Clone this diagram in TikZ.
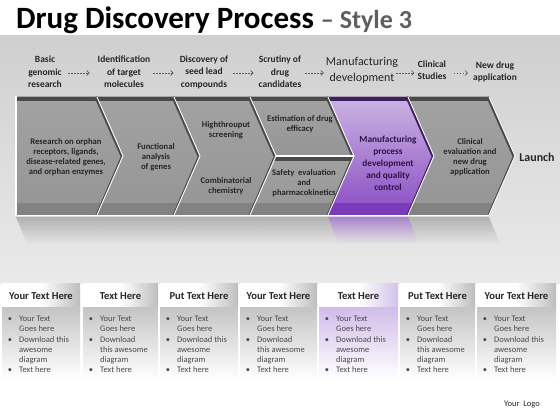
\documentclass[tikz,border=0pt]{standalone}
\usepackage{fontspec}
\setmainfont{Carlito}
\usetikzlibrary{arrows.meta,fadings}
\definecolor{bgtop}{HTML}{CFCFCF}
\definecolor{bgbot}{HTML}{EAEAEA}
\definecolor{chtop}{HTML}{A2A2A2}
\definecolor{chmid}{HTML}{C3C3C3}
\definecolor{chbot}{HTML}{959595}
\definecolor{chstrip}{HTML}{828282}
\definecolor{chdark}{HTML}{4A4A4A}
\definecolor{putop}{HTML}{CBB4E3}
\definecolor{pumid}{HTML}{B08AD8}
\definecolor{pubot}{HTML}{8A4CC4}
\definecolor{pustrip}{HTML}{7B3AB9}
\definecolor{pudark}{HTML}{3F1F5E}
\definecolor{putext}{HTML}{2E1244}
\definecolor{txt}{HTML}{262626}
\definecolor{btxt}{HTML}{4A4A4A}
\definecolor{ttlgray}{HTML}{5F5F5F}
\definecolor{arrgray}{HTML}{5A5A5A}
\definecolor{hdrgray}{HTML}{BDBDBD}
\definecolor{hdrpurple}{HTML}{D3C1EA}
\definecolor{bodygray}{HTML}{C4C4C4}
\definecolor{bodypurple}{HTML}{D1BCEA}
\pgfdeclarehorizontalshading{hdrsh}{100bp}{color(0bp)=(white); color(25bp)=(white); color(50bp)=(white); color(75bp)=(hdrgray); color(100bp)=(hdrgray)}
\pgfdeclarehorizontalshading{hdrshp}{100bp}{color(0bp)=(white); color(25bp)=(white); color(50bp)=(white); color(75bp)=(hdrpurple); color(100bp)=(hdrpurple)}
\pgfdeclareverticalshading{bodysh}{100bp}{color(0bp)=(white); color(25bp)=(white); color(40bp)=(white); color(75bp)=(bodygray); color(100bp)=(bodygray)}
\pgfdeclareverticalshading{bodyshp}{100bp}{color(0bp)=(white); color(25bp)=(white); color(40bp)=(white); color(75bp)=(bodypurple); color(100bp)=(bodypurple)}
\newcommand\chevmid[2]{(#1,97) -- (#2,97) -- ({#2+26},156) -- (#2,215) -- (#1,215) -- ({#1+26},156) -- cycle}
\begin{document}
\begin{tikzpicture}[x=1pt,y=-1pt,
  chface/.style={top color=chtop, middle color=chmid, bottom color=chbot},
  puface/.style={top color=putop, middle color=pumid, bottom color=pubot},
  darkedge/.style={draw=chdark, line width=2.4pt},
  darkedgethin/.style={draw=chdark, line width=1.2pt},
  whiteedge/.style={draw=white, line width=0.9pt},
  lbl/.style={font=\fontsize{9.5}{12.5}\selectfont\bfseries, text=txt, align=center, inner sep=0pt},
  biglbl/.style={font=\fontsize{12}{16}\selectfont, text=txt, align=center, inner sep=0pt},
  darr/.style={draw=arrgray, dash pattern=on 1.6pt off 1.4pt, line width=0.6pt, -{Straight Barb[length=2.5pt,width=5pt]}},
  ctext/.style={font=\fontsize{8.6}{10}\selectfont\bfseries, text=txt, align=center, inner sep=0pt},
  ptext/.style={font=\fontsize{9.3}{12}\selectfont\bfseries, text=putext, align=center, inner sep=0pt},
  hdr/.style={font=\fontsize{10.6}{12}\selectfont\bfseries, text=txt, inner sep=0pt},
  btx/.style={font=\fontsize{8.5}{10}\selectfont, text=btxt, anchor=west, inner sep=0pt, text height=6pt, text depth=2pt},
  bul/.style={font=\fontsize{8.5}{10}\selectfont, text=btxt, inner sep=0pt, text height=6pt, text depth=2pt}
]
\useasboundingbox (0,0) rectangle (560,420);
\fill[white] (0,0) rectangle (560,420);
% background band
\fill[top color=bgtop, bottom color=bgbot] (0,36) rectangle (560,283);

% title
\node[anchor=base west, inner sep=0pt, text=black] (title) at (16,29)
  {\fontsize{31}{31}\selectfont\bfseries Drug Discovery Process\ \fontsize{26}{26}\selectfont\textcolor{ttlgray}{--\ Style 3}};

% top labels
\coordinate (arow) at (0,73);
\node[lbl] (l1) at (45,72) {Basic\\genomic\\research};
\node[lbl] (l2) at (124,72) {Identification\\of target\\molecules};
\node[lbl] (l3) at (204,72) {Discovery of\\seed lead\\compounds};
\node[lbl] (l4) at (280,72) {Scrutiny of\\drug\\candidates};
\node[biglbl] (l5) at (362,70) {Manufacturing\\development};
\node[lbl] (l6) at (432,70) {Clinical\\Studies};
\node[lbl] (l7) at (495,72) {New drug\\application};
\draw[darr, shorten <=6pt, shorten >=8pt] (l1.east |- arow) -- (l2.west |- arow);
\draw[darr, shorten <=3pt, shorten >=6pt] (l2.east |- arow) -- (l3.west |- arow);
\draw[darr, shorten <=5pt, shorten >=5pt] (l3.east |- arow) -- (l4.west |- arow);
\draw[darr, shorten <=4pt, shorten >=2pt] (l4.east |- arow) -- (l5.west |- arow);
\draw[darr, shorten <=-2pt, shorten >=3pt] (l5.east |- arow) -- (l6.west |- arow);
\draw[darr, shorten <=7pt, shorten >=5pt] (l6.east |- arow) -- (l7.west |- arow);

% reflections
\foreach \xa/\xb in {16/97,97/174,174/250,250/328,408/489}{
  \fill[chstrip, fill opacity=0.5, path fading=south] (\xa,217) -- (\xb,217) -- (\xb+11,244) -- (\xa+11,244) -- cycle;
}
\fill[pustrip, fill opacity=0.55, path fading=south] (328,217) -- (408,217) -- (419,244) -- (339,244) -- cycle;

% chevron 1
\fill[chface] (16,97) -- (97,97) -- (123,156) -- (97,215) -- (16,215) -- cycle;
\begin{scope}
  \clip (16,97) -- (97,97) -- (123,156) -- (97,215) -- (16,215) -- cycle;
  \fill[chstrip] (0,203) rectangle (560,216);
  \fill[chdark] (0,96) rectangle (560,101.5);
\end{scope}
% chevrons 2,3,6
\foreach \xa/\xb in {97/174,174/250,408/489}{
  \fill[chface] \chevmid{\xa}{\xb};
  \begin{scope}
    \clip \chevmid{\xa}{\xb};
    \fill[chstrip] (0,203) rectangle (560,216);
    \fill[chdark] (0,96) rectangle (560,101.5);
  \end{scope}
}
% chevron 4 upper and lower
\fill[chface] (250,97) -- (328,97) -- (354,156) -- (276,156) -- cycle;
\begin{scope}
  \clip (250,97) -- (328,97) -- (354,156) -- (276,156) -- cycle;
  \fill[chdark] (0,96) rectangle (560,101.5);
\end{scope}
\fill[chface] (276,156) -- (354,156) -- (328,215) -- (250,215) -- cycle;
\begin{scope}
  \clip (276,156) -- (354,156) -- (328,215) -- (250,215) -- cycle;
  \fill[chstrip] (0,203) rectangle (560,216);
  \fill[chdark] (0,156) rectangle (560,160.5);
\end{scope}
% chevron 5 purple
\fill[puface] \chevmid{328}{408};
\begin{scope}
  \clip \chevmid{328}{408};
  \fill[pustrip] (0,203) rectangle (560,216);
  \fill[pudark] (0,96) rectangle (560,101.5);
\end{scope}

% dark right edges
\foreach \xb in {97,174,250,328,489}{
  \draw[darkedge] (\xb-1.4,97) -- (\xb+24.6,156);
  \draw[darkedgethin] (\xb+24.6,156) -- (\xb-0.8,215);
}
\draw[darkedge, draw=pudark] (406.6,97) -- (432.6,156);
\draw[darkedgethin, draw=pudark] (432.6,156) -- (407.2,215);
% white outlines
\foreach \xb in {97,174,250,328,408,489}{
  \draw[whiteedge] (\xb,97) -- (\xb+26,156) -- (\xb,215);
}
\draw[whiteedge, line width=1.2pt] (276,156) -- (354,156);
\draw[whiteedge, line width=1.2pt] (16,96) -- (16,215.5) -- (489,215.5);

% chevron texts
\node[ctext] (c1) at (66,157) {Research on orphan\\receptors, ligands,\\disease-related genes,\\and orphan enzymes};
\node[ctext] (c2) at (156,157) {Functional\\analysis\\of genes};
\node[ctext] (c3a) at (226,130) {Highthrouput\\screening};
\node[ctext] (c3b) at (226,186) {Combinatorial\\chemistry};
\node[ctext] (c4a) at (300,124) {Estimation of drug\\efficacy};
\node[ctext] (c4b) at (304,183) {Safety\ \ evaluation\\and\\pharmacokinetics};
\node[ptext] (c5) at (388,163) {Manufacturing\\process\\development\\and quality\\control};
\node[ctext] (c6) at (470,157) {Clinical\\evaluation and\\new drug\\application};
\node[font=\fontsize{12}{14}\selectfont\bfseries, text=txt, inner sep=0pt] (launch) at (537,157) {Launch};

% bottom boxes
\foreach \i/\xa/\xb/\hd/\da/\db in {
 1/2/80/Your Text Here/Download this/awesome,
 2/83/158/Text Here/Download/this awesome,
 3/160/238/Put Text Here/Download this/awesome,
 4/240/317/Your Text Here/Download/this awesome,
 5/319/398/Text Here/Download this/awesome,
 6/400/475/Put Text Here/Download/this awesome,
 7/477/556/Your Text Here/Download this/awesome}{
  \pgfmathsetmacro\xc{(\xa+\xb)/2}
  \ifnum\i=5 \def\bsh{bodyshp}\def\hsh{hdrshp}\else \def\bsh{bodysh}\def\hsh{hdrsh}\fi
  \fill[shading=\hsh] (\xa,283) rectangle (\xb,307);
  \fill[shading=\bsh] (\xa,307) rectangle (\xb,410);
  \node[hdr] (hd\i) at (\xc,296) {\hd};
  \node[bul] (ba\i) at (\xa+8,319) {•};
  \node[btx] (ta\i) at (\xa+17,319) {Your Text};
  \node[btx] (tb\i) at (\xa+17,329.5) {Goes here};
  \node[bul] (bb\i) at (\xa+8,340) {•};
  \node[btx] (tc\i) at (\xa+17,340) {\da};
  \node[btx] (td\i) at (\xa+17,350) {\db};
  \node[btx] (te\i) at (\xa+17,360) {diagram};
  \node[bul] (bc\i) at (\xa+8,370.5) {•};
  \node[btx] (tf\i) at (\xa+17,370.5) {Text here};
}
\node[font=\fontsize{8.5}{10}\selectfont, text=txt, inner sep=0pt] (logo) at (522,405) {Your\ \ Logo};
\end{tikzpicture}
\end{document}
